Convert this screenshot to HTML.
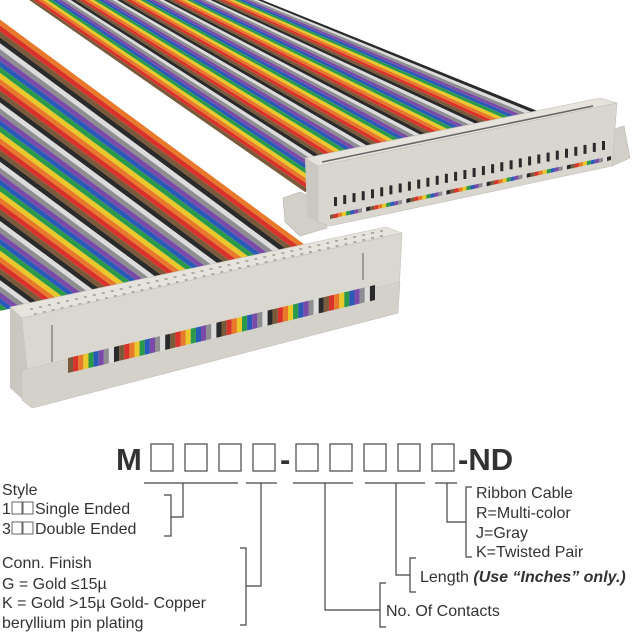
<!DOCTYPE html>
<html><head><meta charset="utf-8"><style>
html,body{margin:0;padding:0;background:#fff;}
svg{display:block;}
text{font-family:"Liberation Sans",Arial,sans-serif;fill:#333;}
</style></head><body>
<svg id="s" width="640" height="640" viewBox="0 0 640 640" xmlns="http://www.w3.org/2000/svg">
<g id="rib"></g>
<!-- back connector -->
<polygon points="283,198 300,192 327,204 327,228 300,236 285,222" fill="#d2cec8" stroke="#b8b4ae" stroke-width="0.6"/>
<polygon points="605,132 624,126 630,158 612,166" fill="#d2cec8" stroke="#b8b4ae" stroke-width="0.6"/>
<polygon points="305,158 600,98 617,103 318,166" fill="#e6e2dc" stroke="#c0bcb6" stroke-width="0.6"/>
<polygon points="318,166 617,103 612,166 330,226 318,222" fill="#d9d5cf" stroke="#c0bcb6" stroke-width="0.6"/>
<polygon points="305,158 318,166 318,222 307,216" fill="#cbc7c1"/>
<line x1="322" y1="162" x2="593" y2="106" stroke="#666" stroke-width="1.5"/>
<g id="slots"></g>
<g id="bdots"></g>
<!-- front connector -->
<polygon points="10,307 386,227 402,233 22,318" fill="#e6e2dc" stroke="#c8c4be" stroke-width="0.6"/>
<g id="holes"></g>
<polygon points="22,318 402,233 398,313 32,408 22,400" fill="#dad6d0" stroke="#c4c0ba" stroke-width="0.6"/>
<polygon points="10,307 22,318 32,408 10,388" fill="#cac6c0"/>
<line x1="52" y1="325" x2="52" y2="362" stroke="#8a8680" stroke-width="1.5"/>
<line x1="363" y1="253" x2="363" y2="280" stroke="#8a8680" stroke-width="1.5"/>
<polygon points="22,370 400,282 398,313 32,408 22,400" fill="#d4d0ca" stroke="#c4c0ba" stroke-width="0.5"/>
<g id="band"></g>
<!-- title -->
<text x="116" y="470" font-size="31" font-weight="bold" fill="#3a3a3a">M</text>
<g fill="none" stroke="#555" stroke-width="1.3">
<rect x="151" y="444" width="22" height="27"/><rect x="185" y="444" width="22" height="27"/><rect x="219" y="444" width="22" height="27"/><rect x="253" y="444" width="22" height="27"/>
<rect x="296" y="444" width="22" height="27"/><rect x="330" y="444" width="22" height="27"/><rect x="364" y="444" width="22" height="27"/><rect x="398" y="444" width="22" height="27"/><rect x="432" y="444" width="22" height="27"/>
</g>
<text x="280" y="470" font-size="31" font-weight="bold" fill="#3a3a3a">-</text>
<text x="458" y="470" font-size="31" font-weight="bold" fill="#3a3a3a">-ND</text>
<g stroke="#444" stroke-width="1.2" fill="none">
<line x1="144" y1="483" x2="238" y2="483"/><line x1="246" y1="483" x2="277" y2="483"/><line x1="293" y1="483" x2="353" y2="483"/><line x1="365" y1="483" x2="425" y2="483"/><line x1="435" y1="483" x2="457" y2="483"/>
<polyline points="183,483 183,517 171,517"/><polyline points="164,495 171,495 171,536 164,536"/>
<polyline points="261,483 261,586 246,586"/><polyline points="240,548 246,548 246,625 240,625"/>
<polyline points="325,483 325,610 380,610"/><polyline points="386,583 380,583 380,627 386,627"/>
<polyline points="396,483 396,575 410,575"/><polyline points="416,558 410,558 410,592 416,592"/>
<polyline points="447,483 447,522 466,522"/><polyline points="472,487 466,487 466,557 472,557"/>
</g>
<g font-size="16">
<text x="2" y="495">Style</text>
<text x="2" y="514">1</text><text x="35" y="514">Single Ended</text>
<text x="2" y="534">3</text><text x="35" y="534">Double Ended</text>
<text x="2" y="568">Conn. Finish</text>
<text x="2" y="589">G = Gold ≤15µ</text>
<text x="2" y="608">K = Gold &gt;15µ Gold- Copper</text>
<text x="2" y="628">beryllium pin plating</text>
<text x="476" y="498">Ribbon Cable</text>
<text x="476" y="518">R=Multi-color</text>
<text x="476" y="538">J=Gray</text>
<text x="476" y="557">K=Twisted Pair</text>
<text x="420" y="582">Length <tspan font-weight="bold" font-style="italic">(Use “Inches” only.)</tspan></text>
<text x="386" y="616">No. Of Contacts</text>
</g>
<g fill="none" stroke="#666" stroke-width="1">
<rect x="12" y="502" width="10" height="12"/><rect x="23" y="502" width="10" height="12"/>
<rect x="12" y="522" width="10" height="12"/><rect x="23" y="522" width="10" height="12"/>
</g>
</svg>
<script>
var NS="http://www.w3.org/2000/svg";
var C=['#7a5a3a','#d8322a','#e8782a','#e8c82a','#2a9a4a','#2a5ab8','#7a4aa8','#8e8e92','#dcdcdc','#2a2a2a'];
function poly(g,pts,f){var p=document.createElementNS(NS,'polygon');p.setAttribute('points',pts.map(function(a){return a[0].toFixed(1)+','+a[1].toFixed(1)}).join(' '));p.setAttribute('fill',f);g.appendChild(p);}
function L(a,b,t){return [a[0]+(b[0]-a[0])*t,a[1]+(b[1]-a[1])*t];}
var rib=document.getElementById('rib');
var N=50;
for(var i=0;i<N;i++){var t0=i/N,t1=(i+1)/N;
 var a=L([22,-5],[250,-5],t0),b=L([22,-5],[250,-5],t1),c=L([305,192],[540,112],t1),d=L([305,192],[540,112],t0);
 poly(rib,[a,b,c,d],C[i%10]);}
for(var i=0;i<N;i++){var t0=i/N,t1=(i+1)/N;
 var B0=L([-5,312],[305,245],t0),B1=L([-5,312],[305,245],t1),dx=-614,dy=-454;
 poly(rib,[B0,B1,[B1[0]+dx,B1[1]+dy],[B0[0]+dx,B0[1]+dy]],C[(i+3)%10]);}
var g=document.getElementById('slots');
for(var i=0;i<30;i++){var p=L([334,197],[602,141],i/29);poly(g,[[p[0],p[1]],[p[0]+3,p[1]],[p[0]+3,p[1]+9],[p[0],p[1]+9]],'#2a2a2a');}
var h=document.getElementById('holes');
for(var r=0;r<2;r++)for(var i=0;i<40;i++){var p=L([30+r*4,308+r*5],[380,230+r*5],i/39);poly(h,[[p[0],p[1]],[p[0]+3,p[1]],[p[0]+3,p[1]+2],[p[0],p[1]+2]],'#b0aca6');}
g=document.getElementById('bdots');
for(var i=0;i<70;i++){var p=L([330,215],[607,157],i/69);poly(g,[[p[0],p[1]],[p[0]+4,p[1]-1],[p[0]+4,p[1]+3],[p[0],p[1]+4]],C[i%10]);}
g=document.getElementById('band');
var M=60;
for(var i=0;i<M;i++){var t0=i/M,t1=(i+1)/M;
 var a=L([68,358],[375,285],t0),b=L([68,358],[375,285],t1);
 poly(g,[a,b,[b[0],b[1]+15],[a[0],a[1]+15]],C[i%10]);}
</script>
</body></html>
